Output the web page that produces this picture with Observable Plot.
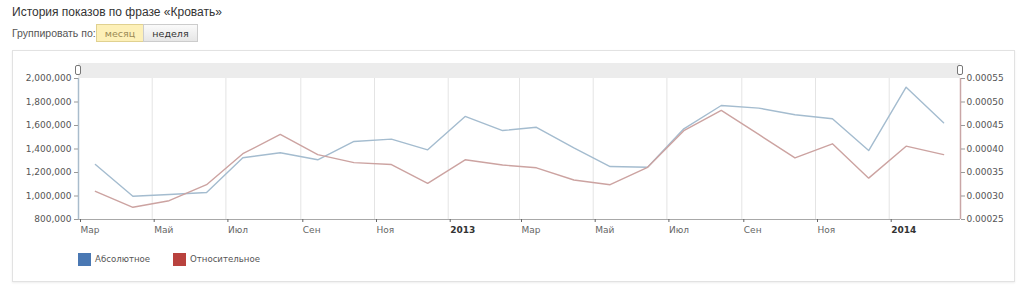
<!DOCTYPE html>
<html><head><meta charset="utf-8">
<script src="https://cdn.jsdelivr.net/npm/d3@7"></script>
<script src="https://cdn.jsdelivr.net/npm/@observablehq/plot@0.6"></script>
<style>
body{margin:0;width:1024px;height:290px;background:#fff;font-family:"DejaVu Sans",Verdana,sans-serif;position:relative;overflow:hidden}
.title{position:absolute;left:12px;top:5px;font-family:"Liberation Sans",Arial,sans-serif;font-size:12px;color:#333}
.grp{position:absolute;left:12px;top:27px;font-family:"Liberation Sans",Arial,sans-serif;font-size:10.5px;color:#555}
.btn{position:absolute;top:24px;height:18px;line-height:17px;font-size:9.5px;text-align:center;box-sizing:border-box;border:1px solid #ccc}
.b1{left:96px;width:48px;background:#fdf0b8;border-color:#e0d190;color:#9a8a55}
.b2{left:143px;width:55px;background:linear-gradient(#fafafa,#e6e6e6);color:#333}
.box{position:absolute;left:12px;top:50px;width:1003px;height:232px;border:1px solid #e2e2e2;box-sizing:border-box;box-shadow:0 1px 2px #eee}
.band{position:absolute;left:78px;top:63px;width:882px;height:15px;background:#ececec}
.hd{position:absolute;top:65px;width:6px;height:10px;border:1px solid #777;border-radius:2px;background:#fff;box-sizing:border-box}
#chart{position:absolute;left:0;top:50px}
.leg{position:absolute;top:253px;font-size:8.6px;color:#555;height:13px;line-height:13px}
.sw{display:inline-block;width:13px;height:13px;vertical-align:top;margin-right:4px}
</style></head><body>
<div class="title">История показов по фразе «Кровать»</div>
<div class="grp">Группировать по:</div>
<div class="btn b1">месяц</div>
<div class="btn b2">неделя</div>
<div class="box"></div>
<div class="band"></div>
<div id="chart"></div>
<div class="hd" style="left:75px"></div>
<div class="hd" style="left:957px"></div>
<div class="leg" style="left:78px"><span class="sw" style="background:#4a78b3"></span>Абсолютное</div>
<div class="leg" style="left:173px"><span class="sw" style="background:#b9423e"></span>Относительное</div>
<script>
const months = ["2012-03","2012-04","2012-05","2012-06","2012-07","2012-08","2012-09","2012-10","2012-11","2012-12",
"2013-01","2013-02","2013-03","2013-04","2013-05","2013-06","2013-07","2013-08","2013-09","2013-10","2013-11","2013-12",
"2014-01","2014-02"];
const absolute = [1268000,998000,1013000,1030000,1325000,1368000,1308000,1464000,1484000,1393000,
1677000,1557000,1585000,1410000,1251000,1245000,1572000,1770000,1748000,1691000,1657000,1387000,
1926000,1623000];
const relative = [0.000310,0.000276,0.000290,0.000324,0.000390,0.000431,0.000388,0.000371,0.000367,0.000327,
0.000377,0.000366,0.000360,0.000334,0.000324,0.000361,0.000439,0.000482,0.000431,0.000381,0.000411,0.000338,
0.000406,0.000388];
const leftTicks = [800000,1000000,1200000,1400000,1600000,1800000,2000000];
const rightTicks = [0.00025,0.00030,0.00035,0.00040,0.00045,0.00050,0.00055];
const xTickMonths = ["2012-03","2012-05","2012-07","2012-09","2012-11","2013-01","2013-03","2013-05","2013-07","2013-09","2013-11","2014-01"];
const xTickLabels = ["Мар","Май","Июл","Сен","Ноя","2013","Мар","Май","Июл","Сен","Ноя","2014"];
const xDomain = ["2012-03","2014-03"];

const md = (s, day) => { const [y,m] = s.split("-").map(Number); return new Date(Date.UTC(y, m-1, day)); };
const L0 = leftTicks[0], L1 = leftTicks[leftTicks.length-1];
const R0 = rightTicks[0], R1 = rightTicks[rightTicks.length-1];
const toLeft = v => L0 + (v - R0) / (R1 - R0) * (L1 - L0);
const fromLeft = v => R0 + (v - L0) / (L1 - L0) * (R1 - R0);

const data = months.map((m, i) => ({date: md(m, 15), abs: absolute[i], rel: toLeft(relative[i])}));
const tickDates = xTickMonths.map(m => md(m, 1));
const labelMap = new Map(tickDates.map((d, i) => [+d, xTickLabels[i]]));
const isYear = d => /^\d{4}$/.test(labelMap.get(+d));
const monthTicks = tickDates.filter(d => !isYear(d));
const yearTicks = tickDates.filter(isYear);
const d0 = md(xDomain[0], 1), d1 = md(xDomain[1], 1);

const chart = Plot.plot({
  width: 1024, height: 200,
  marginLeft: 78, marginRight: 64, marginTop: 28, marginBottom: 31,
  style: {fontFamily: "DejaVu Sans, Verdana, sans-serif", fontSize: "9px", color: "#555", background: "transparent"},
  x: {type: "utc", domain: [d0, d1]},
  y: {domain: [L0, L1]},
  marks: [
    Plot.ruleX(tickDates, {x: d => d, stroke: "#e4e4e4", strokeWidth: 1}),
    Plot.ruleY([L0], {stroke: "#a8a8a8"}),
    Plot.ruleX([d0], {stroke: "#a9bccc", strokeWidth: 1.5}),
    Plot.ruleX([d1], {stroke: "#c9a6a6", strokeWidth: 1.5}),
    Plot.axisY(leftTicks, {anchor: "left", tickSize: 4, tickPadding: 3, tickFormat: d3.format(","), label: null, stroke: "#999", fill: "#555"}),
    Plot.axisY(rightTicks.map(toLeft), {anchor: "right", tickSize: 4, tickPadding: 2, tickFormat: d => fromLeft(d).toFixed(5), label: null, stroke: "#999", fill: "#555"}),
    Plot.axisX(monthTicks, {anchor: "bottom", tickSize: 3, tickPadding: 4, tickFormat: d => labelMap.get(+d), textAnchor: "start", dx: 2, label: null, stroke: "#666", fill: "#666"}),
    Plot.axisX(yearTicks, {anchor: "bottom", tickSize: 3, tickPadding: 4, tickFormat: d => labelMap.get(+d), textAnchor: "start", dx: 2, label: null, fontWeight: "bold", stroke: "#666", fill: "#333"}),
    Plot.lineY(data, {x: "date", y: "abs", stroke: "#a4bccf", strokeWidth: 1.4}),
    Plot.lineY(data, {x: "date", y: "rel", stroke: "#cca3a1", strokeWidth: 1.4})
  ]
});
document.getElementById("chart").append(chart);
</script>
</body></html>
